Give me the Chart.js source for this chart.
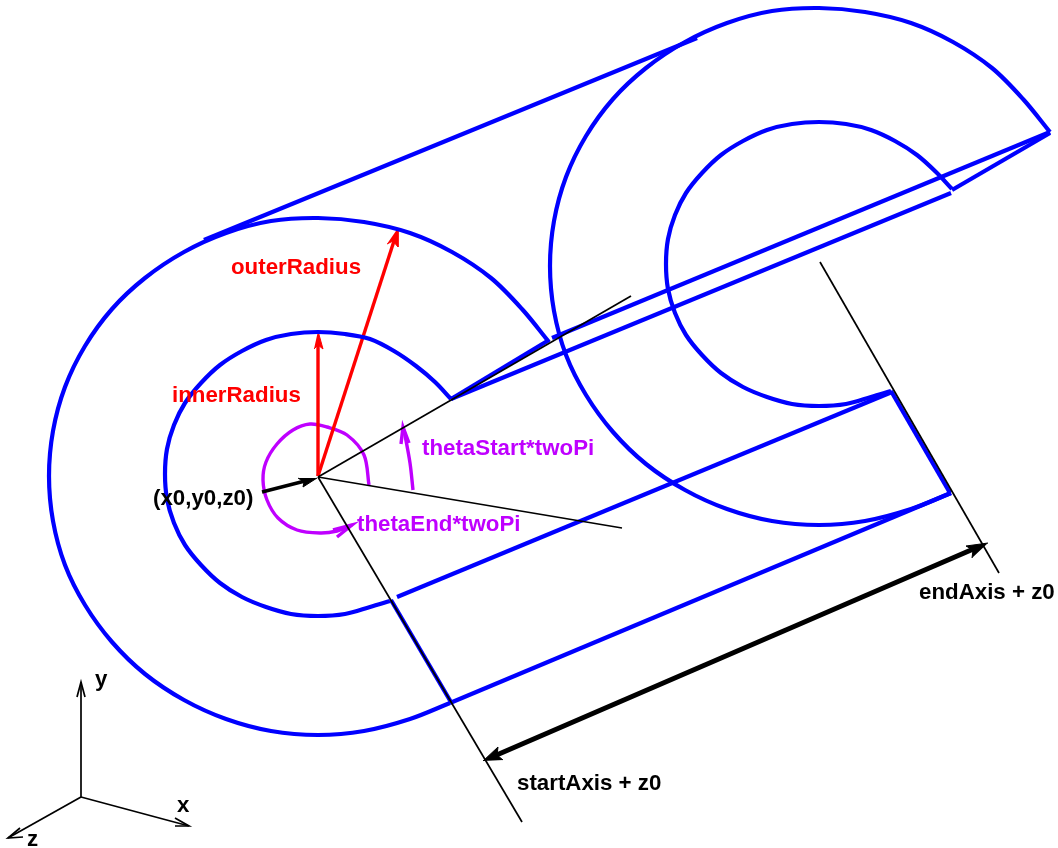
<!DOCTYPE html>
<html><head><meta charset="utf-8">
<style>html,body{margin:0;padding:0;background:#fff}canvas{display:block}</style>
<script src="https://cdn.jsdelivr.net/npm/chart.js@4"></script>
</head><body><canvas id="c" width="1058" height="848"></canvas>
<script>
// Diagram geometry, in image units
const outerArcFront=[[549,342],[522,309],[491,278],[452,252],[410,233],[364,222],[318,218],[271,221],[226,233],[184,252],[145,278],[112,309],[85,346],[65,387],[53,431],[49,476],[53,521],[65,565],[85,605],[112,642],[145,674],[184,700],[226,719],[271,731],[318,735],[364,731],[410,719],[450,703]];
const innerArcFront=[[451,399],[435,382],[416,366],[394,351],[370,339],[345,334],[318,332],[291,334],[266,340],[242,351],[220,365],[201,383],[185,403],[174,425],[167,449],[165,474],[167,499],[174,523],[185,545],[201,565],[220,583],[242,597],[266,607],[291,614],[318,616],[345,614],[370,607],[390,601]];
const outerArcBack=[[1050,132],[1023,99],[992,68],[953,42],[911,23],[865,12],[819,8],[772,11],[727,23],[685,42],[646,68],[613,99],[586,136],[566,177],[554,221],[550,266],[554,311],[566,355],[586,395],[613,432],[646,464],[685,490],[727,509],[772,521],[819,525],[865,521],[911,509],[951,493]];
const innerArcBack=[[952,189],[936,172],[917,155],[895,141],[871,130],[846,124],[819,122],[792,124],[767,130],[743,141],[721,155],[702,173],[686,193],[675,215],[668,239],[666,264],[668,289],[675,313],[686,335],[702,355],[721,373],[743,387],[767,397],[792,404],[819,406],[846,404],[871,397],[891,391]];
const blueSegments=[
 [[204,240],[697,38]],[[451,399],[549,340]],[[552,338],[1050,132]],[[451,399],[951,193]],
 [[952,190],[1050,133]],[[397,597],[892,392]],[[391,600],[451.5,703]],[[450,703],[951,493]],[[891,391],[950,493]]];
const guideLines=[[[318,477],[631,296]],[[318,477],[622,528]],[[318,477],[522,822]],[[820,262],[999,573]]];
const axisLines=[[[81,797],[81,682]],[[81,797],[189,826]],[[81,797],[8,838]]];
const axisHeads=[[[77,697],[81,682],[85,697]],[[175,818],[189,826],[175,826]],[[20,828],[8,838],[23,837]]];
const redLines=[[[318,476],[318,340]],[[318,476],[394,241]]];
const redHeads=[[[318,331],[323,349],[318,345],[314,349]],[[398,228],[398,247],[393,241],[387,244]]];
const blackThick=[[[262,492],[305,481]],[[492,757],[978,547]]];
const blackHeads=[[[317,478],[303,487],[304,482],[298,478]],[[483,761],[498,747],[497,755],[503,760]],[[988,543],[966,546],[973,550],[972,558]]];
const purpleArcEnd=[[369,485],[364,455],[347,435],[327,427],[310,424],[293,430],[277,444],[266,462],[263,480],[267,500],[278,518],[297,530],[320,533],[337,531],[352,525]];
const purpleArcStart=[[413,490],[410,463],[404,430]];
const purpleBarbs=[[[333,530],[352,525],[337,537]],[[401,444],[403,427],[409,443]]];
const labelText=['outerRadius','innerRadius','thetaStart*twoPi','thetaEnd*twoPi','(x0,y0,z0)','endAxis + z0','startAxis + z0','y','x','z'];
const labelX=[231,172,422,357,153,919,517,95,177,27];
const labelY=[274,402,455,531,505,599,790,686,812,846];
const labelKind=['red','red','purple','purple','black','black','black','black','black','black'];

const BLUE='#0000ff',RED='#ff0000',PURPLE='#bf00ff',BLACK='#000000';
const kindColor={red:RED,purple:PURPLE,black:BLACK};
const toPts=a=>a.map(p=>({x:p[0],y:p[1]}));
const ds=(a,color,w,extra)=>Object.assign({data:toPts(a),borderColor:color,borderWidth:w,pointRadius:0,showLine:true,fill:false,tension:0,borderCapStyle:'butt',borderJoinStyle:'miter'},extra||{});
const curve={tension:0.33,borderCapStyle:'butt'};
const solid=c=>({fill:'shape',backgroundColor:c});
const datasets=[];
guideLines.forEach(l=>datasets.push(ds(l,BLACK,1.7)));
axisLines.forEach(l=>datasets.push(ds(l,BLACK,1.7)));
axisHeads.forEach(l=>datasets.push(ds(l,BLACK,1.7)));
[outerArcFront,innerArcFront,outerArcBack,innerArcBack].forEach(a=>datasets.push(ds(a,BLUE,4.2,curve)));
blueSegments.forEach(l=>datasets.push(ds(l,BLUE,4.2)));
redLines.forEach(l=>datasets.push(ds(l,RED,3.4)));
redHeads.forEach(l=>datasets.push(ds(l,RED,1,solid(RED))));
blackThick.forEach((l,i)=>datasets.push(ds(l,BLACK,i?5:3.4)));
blackHeads.forEach(l=>datasets.push(ds(l,BLACK,1,solid(BLACK))));
datasets.push(ds(purpleArcEnd,PURPLE,3.4,curve));
datasets.push(ds(purpleArcStart,PURPLE,3.4,curve));
purpleBarbs.forEach(l=>datasets.push(ds(l,PURPLE,3.4)));

const textPlugin={id:'diagramText',afterDatasetsDraw(chart){
  const {ctx,scales:{x,y}}=chart;ctx.save();
  ctx.font='bold 22.3px "Liberation Sans"';ctx.textAlign='left';ctx.textBaseline='alphabetic';
  labelText.forEach((t,i)=>{ctx.fillStyle=kindColor[labelKind[i]];ctx.fillText(t,x.getPixelForValue(labelX[i]),y.getPixelForValue(labelY[i]));});
  ctx.restore();}};
new Chart(document.getElementById('c'),{type:'scatter',data:{datasets},plugins:[textPlugin],options:{
  responsive:false,animation:false,events:[],
  layout:{padding:0},
  plugins:{legend:{display:false},tooltip:{enabled:false},title:{display:false}},
  scales:{x:{type:'linear',min:0,max:1058,display:false},y:{type:'linear',min:0,max:848,reverse:true,display:false}}
}});
</script></body></html>
